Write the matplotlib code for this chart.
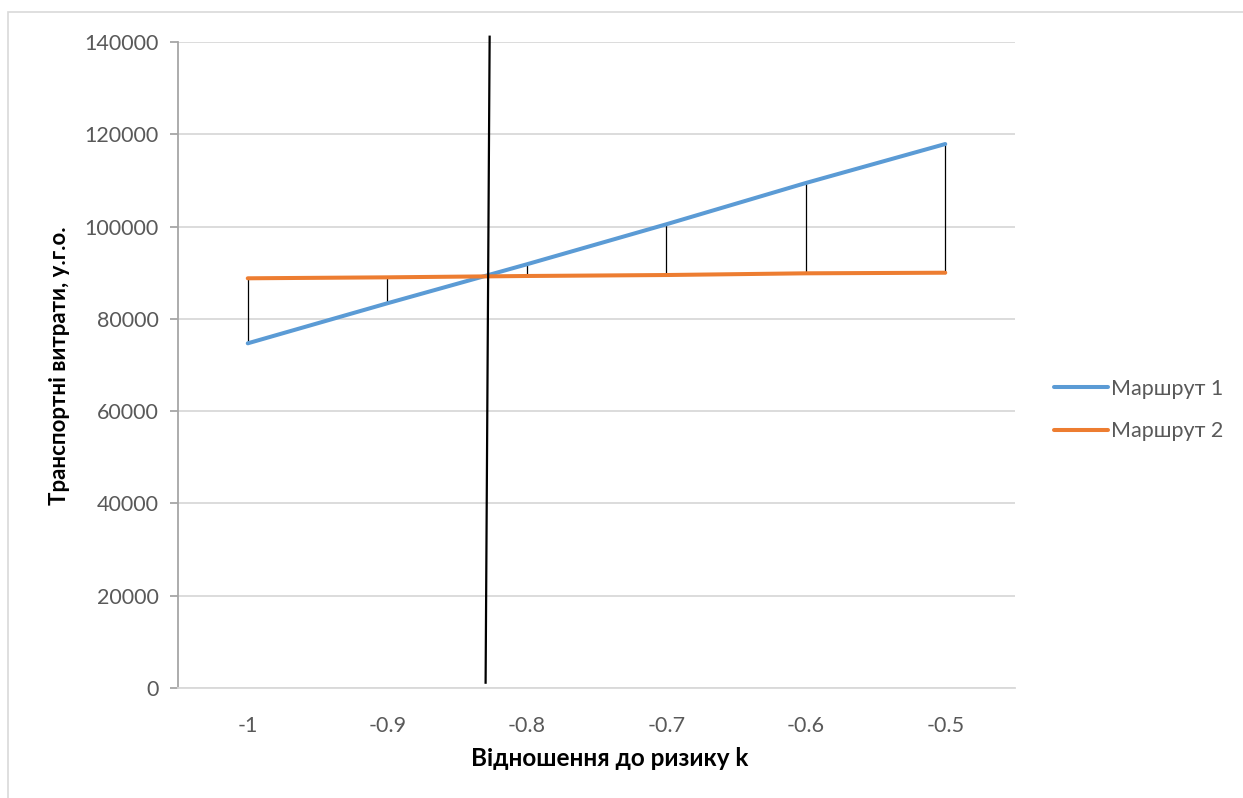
import matplotlib
matplotlib.use("Agg")
import matplotlib.pyplot as plt
from matplotlib.patches import Rectangle

plt.rcParams['font.family'] = ['Lato', 'DejaVu Sans']

# Risk attitude coefficient k (categories)
k_values = [-1, -0.9, -0.8, -0.7, -0.6, -0.5]
k_labels = ["-1", "-0.9", "-0.8", "-0.7", "-0.6", "-0.5"]

# Transport costs per route
route1 = [74700, 83370, 91820, 100490, 109440, 117890]
route2 = [88790, 89000, 89290, 89500, 89870, 90000]

# Break-even marker line (k, cost) end points
breakeven_k = [-0.8295, -0.8266]
breakeven_cost = [1150, 141150]

y_ticks = [0, 20000, 40000, 60000, 80000, 100000, 120000, 140000]

W, H = 1243, 798
fig = plt.figure(figsize=(W / 100, H / 100), dpi=100)
fig.patch.set_facecolor("white")

# Chart border
fig.patches.append(Rectangle((8 / W, -0.1), 1.2, (H - 12) / H + 0.1,
                             transform=fig.transFigure, fill=False,
                             edgecolor="#d9d9d9", linewidth=1.2))

ax = fig.add_axes([178 / W, (H - 688) / H, (1015 - 178) / W, (688 - 42) / H])

ax.set_xlim(-1.05, -0.45)
ax.set_ylim(0, 140000)

ax.set_yticks(y_ticks)
ax.set_yticklabels([str(v) for v in y_ticks])
ax.set_xticks(k_values)
ax.set_xticklabels(k_labels)

ax.grid(axis="y", color="#d9d9d9", linewidth=1.3, zorder=0)
ax.set_axisbelow(True)

for side in ("top", "right"):
    ax.spines[side].set_visible(False)
ax.spines["bottom"].set_color("#d9d9d9")
ax.spines["bottom"].set_linewidth(1.3)
ax.spines["left"].set_color("#a6a6a6")
ax.spines["left"].set_linewidth(1.3)

ax.tick_params(axis="y", direction="out", length=6, width=1.3, color="#a6a6a6",
               labelsize=15.5, labelcolor="#595959", pad=8)
ax.tick_params(axis="x", length=0, labelsize=15.5, labelcolor="#595959", pad=20)

# High-low lines between the two routes
for k, a, b in zip(k_values, route1, route2):
    ax.plot([k, k], [a, b], color="black", linewidth=0.9, zorder=2)

ax.plot(k_values, route1, color="#5B9BD5", linewidth=2.9, label="Маршрут 1",
        solid_capstyle="round", zorder=3)
ax.plot(k_values, route2, color="#ED7D31", linewidth=2.9, label="Маршрут 2",
        solid_capstyle="round", zorder=3)

ax.plot(breakeven_k, breakeven_cost, color="black", linewidth=1.6,
        clip_on=False, zorder=4)

ax.set_xlabel("Відношення до ризику k", fontsize=17.5, fontweight="bold",
              color="black", labelpad=12)
ax.xaxis.set_label_coords((610 - 178) / (1015 - 178), -(758 - 688) / (688 - 42))
ax.set_ylabel("Транспортні витрати, у.г.о.", fontsize=16, fontweight="bold",
              color="black", labelpad=12)
ax.yaxis.set_label_coords(-(178 - 60) / (1015 - 178), (688 - 366) / (688 - 42))
ax.xaxis.label.set_verticalalignment("center")
ax.yaxis.label.set_verticalalignment("center")

leg = ax.legend(loc="center left", bbox_to_anchor=(1043 / W, (H - 410) / H),
                bbox_transform=fig.transFigure, frameon=False,
                fontsize=15.5, handlelength=2.5, handletextpad=0.15,
                labelspacing=1.05, borderpad=0)
for t in leg.get_texts():
    t.set_color("#595959")

fig.savefig("out.png", dpi=100)
